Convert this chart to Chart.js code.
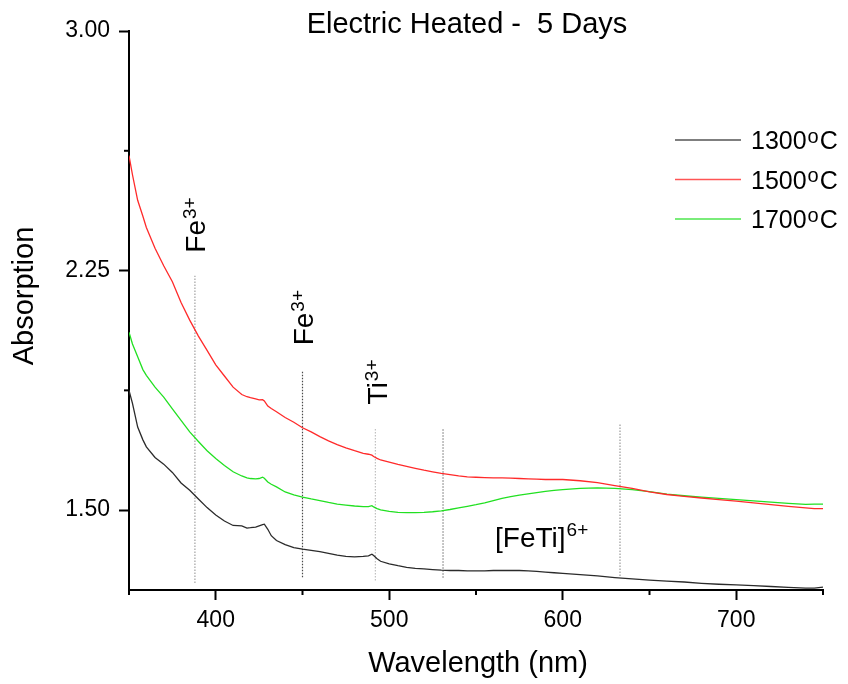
<!DOCTYPE html>
<html>
<head>
<meta charset="utf-8">
<script src="https://cdn.jsdelivr.net/npm/chart.js@4.4.1/dist/chart.umd.min.js"></script>
<style>
  html, body { margin: 0; padding: 0; background: #fff; }
  #wrap { width: 848px; height: 684px; }
</style>
</head>
<body>
<div id="wrap"><canvas id="chart" width="848" height="684"></canvas></div>
<script>
// Absorption spectra, glass samples electric heated for 5 days
const wavelength = [350, 352, 355, 358, 360, 365, 370, 375, 380, 385, 390, 395, 400, 405, 410, 415, 418, 420, 423, 425, 427, 428, 430, 432, 435, 440, 445, 450, 455, 460, 465, 470, 475, 480, 485, 488, 490, 491, 493, 495, 500, 505, 510, 515, 520, 525, 530, 535, 540, 545, 550, 555, 560, 565, 570, 575, 580, 585, 590, 595, 600, 610, 620, 630, 640, 650, 660, 670, 680, 690, 700, 710, 720, 730, 740, 745, 750];

const abs1300 = [1.875, 1.834, 1.760, 1.720, 1.698, 1.665, 1.644, 1.618, 1.585, 1.562, 1.535, 1.508, 1.485, 1.466, 1.452, 1.451, 1.444, 1.445, 1.447, 1.451, 1.455, 1.456, 1.440, 1.420, 1.405, 1.392, 1.383, 1.378, 1.374, 1.370, 1.365, 1.359, 1.355, 1.354, 1.355, 1.357, 1.362, 1.358, 1.348, 1.340, 1.332, 1.326, 1.321, 1.318, 1.316, 1.314, 1.312, 1.311, 1.311, 1.310, 1.310, 1.310, 1.311, 1.311, 1.311, 1.311, 1.310, 1.308, 1.306, 1.304, 1.302, 1.298, 1.294, 1.289, 1.285, 1.281, 1.278, 1.275, 1.271, 1.268, 1.266, 1.264, 1.261, 1.258, 1.256, 1.256, 1.259];

const abs1500 = [2.610, 2.550, 2.470, 2.420, 2.385, 2.320, 2.265, 2.215, 2.150, 2.095, 2.045, 2.000, 1.955, 1.920, 1.885, 1.862, 1.855, 1.852, 1.848, 1.845, 1.846, 1.842, 1.826, 1.818, 1.808, 1.790, 1.775, 1.758, 1.745, 1.730, 1.717, 1.705, 1.695, 1.686, 1.678, 1.675, 1.672, 1.668, 1.662, 1.657, 1.650, 1.643, 1.637, 1.631, 1.625, 1.620, 1.615, 1.611, 1.607, 1.604, 1.603, 1.602, 1.601, 1.601, 1.600, 1.599, 1.598, 1.597, 1.596, 1.596, 1.596, 1.592, 1.586, 1.577, 1.568, 1.557, 1.549, 1.543, 1.538, 1.533, 1.528, 1.523, 1.517, 1.512, 1.507, 1.505, 1.505];

const abs1700 = [2.057, 2.020, 1.980, 1.940, 1.922, 1.885, 1.854, 1.817, 1.781, 1.745, 1.715, 1.686, 1.662, 1.640, 1.620, 1.607, 1.601, 1.599, 1.598, 1.599, 1.603, 1.600, 1.588, 1.581, 1.573, 1.557, 1.548, 1.541, 1.535, 1.530, 1.524, 1.519, 1.516, 1.513, 1.511, 1.511, 1.514, 1.510, 1.505, 1.501, 1.496, 1.493, 1.492, 1.492, 1.493, 1.495, 1.498, 1.502, 1.507, 1.512, 1.517, 1.523, 1.530, 1.537, 1.542, 1.547, 1.551, 1.555, 1.559, 1.562, 1.564, 1.568, 1.570, 1.568, 1.564, 1.558, 1.550, 1.545, 1.541, 1.537, 1.533, 1.529, 1.525, 1.521, 1.518, 1.519, 1.519];

const seriesLabels = ['1300', '1500', '1700'];

// Absorption band markers (wavelength in nm, vertical extent in absorbance)
const bandWavelength = [388, 450, 492, 531, 633];
const bandLow  = [1.272, 1.290, 1.280, 1.288, 1.294];
const bandHigh = [2.234, 1.937, 1.756, 1.756, 1.772];

// Band assignments: ion, charge, anchor wavelength, anchor absorbance
const bandIon    = ['Fe', 'Fe', 'Ti', '[FeTi]'];
const bandCharge = ['3+', '3+', '3+', '6+'];
const bandTextX  = [388, 450, 493, 561];
const bandTextY  = [2.306, 2.016, 1.831, 1.385];

const xTicks = [350, 400, 450, 500, 550, 600, 650, 700, 750];
const xMajor = [400, 500, 600, 700];
const yTicks = [1.5, 1.875, 2.25, 2.625, 3.0];
const yMajor = [1.5, 2.25, 3.0];

const FAMILY = "'Liberation Sans', Arial, Helvetica, sans-serif";
const seriesColors = ['#2b2b2b', '#ff2a2a', '#22e022'];
const bandColors = ['#a0a0a0', '#4a4a4a', '#c0c0c0', '#808080', '#9a9a9a'];

const seriesSets = [abs1300, abs1500, abs1700].map((vals, i) => ({
  label: seriesLabels[i],
  data: wavelength.map((w, k) => ({ x: w, y: vals[k] })),
  borderColor: seriesColors[i],
  borderWidth: 1.3,
  pointRadius: 0,
  tension: 0,
  fill: false,
  isSeries: true
}));

const bandSets = bandWavelength.map((w, i) => ({
  label: 'band' + i,
  data: [{ x: w, y: bandLow[i] }, { x: w, y: bandHigh[i] }],
  borderColor: bandColors[i],
  borderWidth: 1.2,
  borderDash: [1.5, 1.5],
  pointRadius: 0,
  fill: false,
  isSeries: false
}));

function drawWithSup(ctx, x, y, main, sup, mainSize, supSize, rise) {
  ctx.font = mainSize + 'px ' + FAMILY;
  ctx.fillText(main, x, y);
  const w = ctx.measureText(main).width;
  ctx.font = supSize + 'px ' + FAMILY;
  ctx.fillText(sup, x + w + 1, y - rise);
}

const decorations = {
  id: 'decorations',
  afterDraw(chart) {
    const ctx = chart.ctx;
    const xs = chart.scales.x, ys = chart.scales.y;
    const area = chart.chartArea;
    ctx.save();

    // minor tick marks
    ctx.strokeStyle = '#000';
    ctx.lineWidth = 2;
    xTicks.filter(v => !xMajor.includes(v)).forEach(v => {
      const px = xs.getPixelForValue(v);
      ctx.beginPath(); ctx.moveTo(px, area.bottom); ctx.lineTo(px, area.bottom + 5); ctx.stroke();
    });
    yTicks.filter(v => !yMajor.includes(v)).forEach(v => {
      const py = ys.getPixelForValue(v);
      ctx.beginPath(); ctx.moveTo(area.left - 5, py); ctx.lineTo(area.left, py); ctx.stroke();
    });

    ctx.fillStyle = '#000';
    ctx.textBaseline = 'alphabetic';
    ctx.textAlign = 'left';

    // band labels
    bandIon.forEach((ion, i) => {
      const px = xs.getPixelForValue(bandTextX[i]);
      const py = ys.getPixelForValue(bandTextY[i]);
      if (i < 3) {
        ctx.save();
        ctx.translate(px, py);
        ctx.rotate(-Math.PI / 2);
        drawWithSup(ctx, 0, 10, ion, bandCharge[i], 28, 19, 9);
        ctx.restore();
      } else {
        drawWithSup(ctx, px, py, ion, bandCharge[i], 28, 19, 11);
      }
    });

    // legend
    chart.data.datasets.filter(d => d.isSeries).forEach((d, i) => {
      const ly = 140 + i * 39.5;
      ctx.strokeStyle = d.borderColor;
      ctx.globalAlpha = 0.8;
      ctx.lineWidth = 1.6;
      ctx.beginPath(); ctx.moveTo(675, ly); ctx.lineTo(741, ly); ctx.stroke();
      ctx.globalAlpha = 1;
      ctx.fillStyle = '#000';
      ctx.font = '25px ' + FAMILY;
      ctx.fillText(d.label, 751, ly + 9);
      const w = ctx.measureText(d.label).width;
      ctx.font = '20px ' + FAMILY;
      ctx.fillText('o', 752 + w, ly + 2.5);
      const wo = ctx.measureText('o').width;
      ctx.font = '25px ' + FAMILY;
      ctx.fillText('C', 753 + w + wo, ly + 9);
    });

    // title
    ctx.textAlign = 'center';
    ctx.font = '29px ' + FAMILY;
    ctx.fillText('Electric Heated -  5 Days', 467, 33);

    // axis titles
    ctx.fillText('Wavelength (nm)', 478, 672);
    ctx.save();
    ctx.translate(33, 296);
    ctx.rotate(-Math.PI / 2);
    ctx.fillText('Absorption', 0, 0);
    ctx.restore();

    ctx.restore();
  }
};

new Chart(document.getElementById('chart'), {
  type: 'line',
  data: { datasets: seriesSets.concat(bandSets) },
  options: {
    responsive: false,
    animation: false,
    layout: { padding: { top: 31, right: 25, left: 0, bottom: 0 } },
    plugins: {
      legend: { display: false },
      title: { display: false },
      tooltip: { enabled: false }
    },
    scales: {
      x: {
        type: 'linear',
        min: 350,
        max: 750,
        afterBuildTicks: s => { s.ticks = xTicks.map(v => ({ value: v })); },
        afterFit: s => { s.height = 94; },
        ticks: {
          callback: v => xMajor.includes(v) ? String(v) : '',
          font: { size: 23, family: FAMILY },
          color: '#000',
          padding: 7,
          maxRotation: 0,
          autoSkip: false
        },
        grid: {
          display: true,
          drawOnChartArea: false,
          drawTicks: true,
          tickLength: 10,
          tickWidth: 2,
          tickColor: c => (c.tick && xMajor.includes(c.tick.value)) ? '#000' : 'rgba(0,0,0,0)'
        },
        border: { display: true, color: '#000', width: 2 }
      },
      y: {
        type: 'linear',
        min: 1.25,
        max: 3.0,
        afterBuildTicks: s => { s.ticks = yTicks.map(v => ({ value: v })); },
        afterFit: s => { s.width = 129; },
        ticks: {
          callback: v => yMajor.includes(v) ? v.toFixed(2) : '',
          font: { size: 23, family: FAMILY },
          color: '#000',
          padding: 9,
          autoSkip: false
        },
        grid: {
          display: true,
          drawOnChartArea: false,
          drawTicks: true,
          tickLength: 10,
          tickWidth: 2,
          tickColor: c => (c.tick && yMajor.includes(c.tick.value)) ? '#000' : 'rgba(0,0,0,0)'
        },
        border: { display: true, color: '#000', width: 2 }
      }
    }
  },
  plugins: [decorations]
});
</script>
</body>
</html>
